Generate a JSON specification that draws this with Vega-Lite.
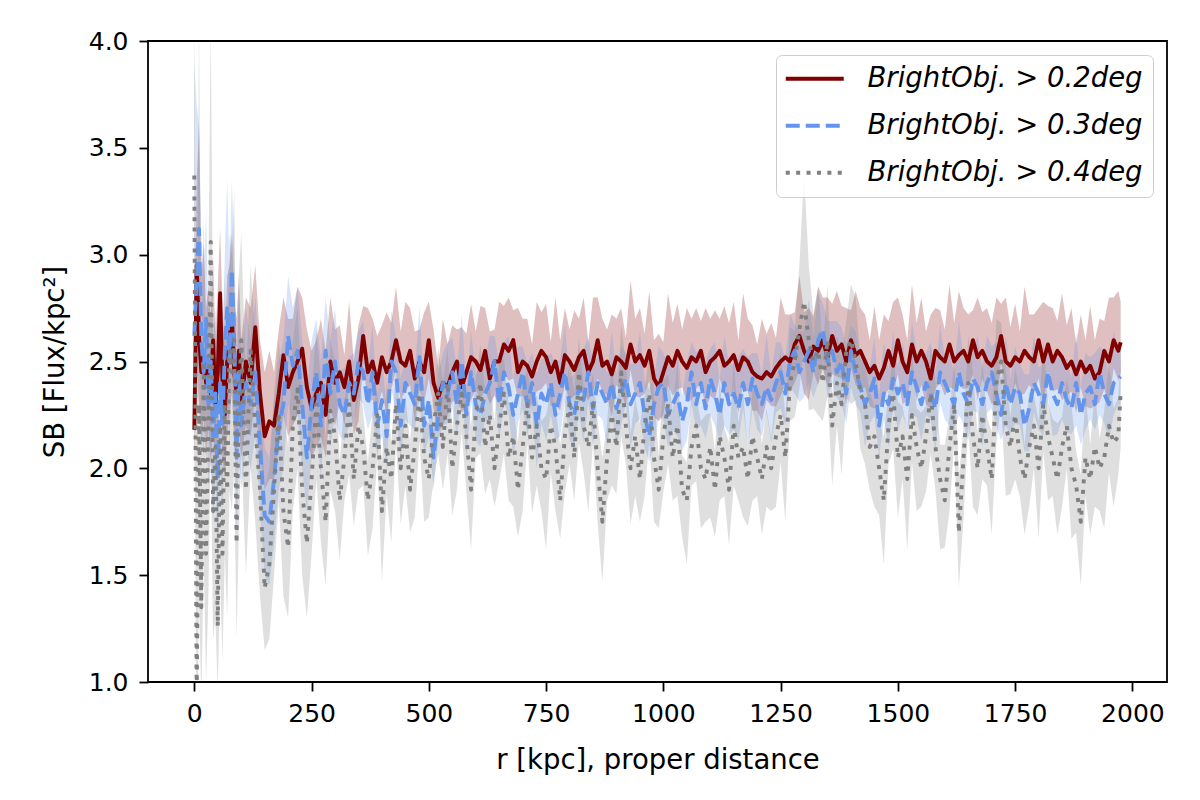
{
  "$schema": "https://vega.github.io/schema/vega-lite/v6.json",
  "width": 1019,
  "height": 641,
  "autosize": {"type": "none"},
  "padding": {"left": 148, "top": 41, "right": 33, "bottom": 118},
  "background": "white",
  "config": {
    "font": "DejaVu Sans",
    "view": {"stroke": "black", "strokeWidth": 1.8},
    "axis": {
      "domain": false,
      "grid": false,
      "tickColor": "black",
      "tickWidth": 1.8,
      "tickSize": 9,
      "labelFont": "DejaVu Sans",
      "labelFontSize": 25,
      "labelColor": "black",
      "titleFont": "DejaVu Sans",
      "titleFontSize": 27.5,
      "titleFontWeight": "normal",
      "titleColor": "black"
    },
    "legend": {
      "orient": "top-right",
      "offset": 14,
      "padding": 10,
      "strokeColor": "#cccccc",
      "fillColor": "rgba(255,255,255,0.8)",
      "cornerRadius": 6,
      "labelFont": "DejaVu Sans",
      "labelFontSize": 27.5,
      "labelFontStyle": "italic",
      "labelColor": "black",
      "labelLimit": 400,
      "symbolType": "M-2.9,0H2.9",
      "symbolSize": 400,
      "symbolStrokeWidth": 3.9,
      "symbolOffset": 15,
      "labelOffset": 39,
      "rowPadding": 18
    }
  },
  "data": {
    "values": [
      {"r":0,"a":2.18,"al":1.95,"ah":2.5,"b":2.62,"bl":2.2,"bh":3.9,"c":3.37,"cl":2.4,"ch":4.2},
      {"r":5,"a":2.95,"al":2.5,"ah":3.35,"b":2.9,"bl":2.3,"bh":3.7,"c":0.9,"cl":0.6,"ch":2.2},
      {"r":10,"a":2.62,"al":2.3,"ah":3.6,"b":3.12,"bl":2.6,"bh":3.6,"c":2.3,"cl":1.4,"ch":4.1},
      {"r":15,"a":2.45,"al":2.1,"ah":2.9,"b":2.6,"bl":2.2,"bh":3.1,"c":1.35,"cl":0.9,"ch":2.4},
      {"r":20,"a":2.55,"al":2.25,"ah":3.05,"b":2.45,"bl":2.05,"bh":2.85,"c":2.5,"cl":1.6,"ch":3.2},
      {"r":25,"a":2.4,"al":2.05,"ah":2.75,"b":2.7,"bl":2.3,"bh":3.2,"c":1.6,"cl":1.0,"ch":2.5},
      {"r":30,"a":2.5,"al":2.2,"ah":2.85,"b":2.3,"bl":1.9,"bh":2.7,"c":2.2,"cl":1.4,"ch":2.9},
      {"r":35,"a":2.35,"al":2.0,"ah":2.7,"b":2.5,"bl":2.1,"bh":2.95,"c":3.06,"cl":2.1,"ch":4.1},
      {"r":40,"a":2.6,"al":2.25,"ah":3.0,"b":2.15,"bl":1.75,"bh":2.6,"c":1.8,"cl":1.2,"ch":2.6},
      {"r":45,"a":2.3,"al":1.95,"ah":2.6,"b":2.35,"bl":1.95,"bh":2.75,"c":2.1,"cl":1.3,"ch":2.7},
      {"r":50,"a":2.45,"al":2.1,"ah":2.85,"b":1.95,"bl":1.55,"bh":2.4,"c":1.26,"cl":0.95,"ch":2.0},
      {"r":55,"a":2.82,"al":2.45,"ah":3.12,"b":2.4,"bl":2.0,"bh":2.8,"c":2.2,"cl":1.5,"ch":2.9},
      {"r":60,"a":2.4,"al":2.05,"ah":2.75,"b":2.2,"bl":1.8,"bh":2.6,"c":1.6,"cl":1.1,"ch":2.3},
      {"r":65,"a":2.25,"al":1.95,"ah":2.6,"b":2.55,"bl":2.15,"bh":3.0,"c":2.3,"cl":1.6,"ch":2.9},
      {"r":70,"a":2.5,"al":2.15,"ah":2.9,"b":2.75,"bl":2.35,"bh":3.35,"c":1.9,"cl":1.3,"ch":2.5},
      {"r":75,"a":2.6,"al":2.25,"ah":2.95,"b":2.5,"bl":2.1,"bh":2.9,"c":2.55,"cl":1.9,"ch":3.1},
      {"r":80,"a":2.72,"al":2.35,"ah":3.1,"b":2.93,"bl":2.5,"bh":3.35,"c":2.45,"cl":1.8,"ch":3.0},
      {"r":85,"a":2.45,"al":2.1,"ah":2.8,"b":2.6,"bl":2.2,"bh":3.0,"c":2.6,"cl":2.0,"ch":3.3},
      {"r":90,"a":2.35,"al":2.05,"ah":2.7,"b":2.05,"bl":1.7,"bh":2.45,"c":1.65,"cl":1.2,"ch":2.3},
      {"r":95,"a":2.55,"al":2.2,"ah":2.9,"b":2.45,"bl":2.05,"bh":2.85,"c":2.3,"cl":1.7,"ch":2.9},
      {"r":100,"a":2.3,"al":2.05,"ah":2.6,"b":2.2,"bl":1.9,"bh":2.5,"c":2.6,"cl":2.1,"ch":3.1},
      {"r":110,"a":2.5,"al":2.2,"ah":2.8,"b":2.4,"bl":2.1,"bh":2.75,"c":1.9,"cl":1.5,"ch":2.4},
      {"r":120,"a":2.4,"al":2.15,"ah":2.75,"b":2.3,"bl":2.0,"bh":2.6,"c":2.55,"cl":2.0,"ch":2.95},
      {"r":130,"a":2.66,"al":2.35,"ah":2.95,"b":2.45,"bl":2.15,"bh":2.8,"c":2.2,"cl":1.75,"ch":2.6},
      {"r":140,"a":2.35,"al":2.05,"ah":2.6,"b":2.1,"bl":1.8,"bh":2.45,"c":1.9,"cl":1.4,"ch":2.4},
      {"r":150,"a":2.15,"al":1.9,"ah":2.45,"b":1.78,"bl":1.5,"bh":2.1,"c":1.44,"cl":1.15,"ch":1.9},
      {"r":160,"a":2.22,"al":1.95,"ah":2.55,"b":1.75,"bl":1.45,"bh":2.05,"c":1.55,"cl":1.2,"ch":2.0},
      {"r":170,"a":2.2,"al":1.95,"ah":2.45,"b":1.95,"bl":1.65,"bh":2.3,"c":1.9,"cl":1.5,"ch":2.35},
      {"r":180,"a":2.35,"al":2.1,"ah":2.65,"b":2.2,"bl":1.9,"bh":2.5,"c":2.26,"cl":1.85,"ch":2.6},
      {"r":190,"a":2.53,"al":2.25,"ah":2.8,"b":2.3,"bl":2.0,"bh":2.6,"c":1.8,"cl":1.4,"ch":2.3},
      {"r":200,"a":2.38,"al":2.15,"ah":2.7,"b":2.62,"bl":2.3,"bh":2.9,"c":1.63,"cl":1.3,"ch":2.1},
      {"r":210,"a":2.45,"al":2.2,"ah":2.7,"b":2.48,"bl":2.2,"bh":2.75,"c":2.2,"cl":1.8,"ch":2.6},
      {"r":220,"a":2.5,"al":2.25,"ah":2.85,"b":2.55,"bl":2.25,"bh":2.85,"c":2.37,"cl":2.0,"ch":2.75},
      {"r":230,"a":2.56,"al":2.3,"ah":2.8,"b":2.3,"bl":2.0,"bh":2.6,"c":1.9,"cl":1.5,"ch":2.35},
      {"r":240,"a":2.38,"al":2.15,"ah":2.65,"b":2.05,"bl":1.8,"bh":2.35,"c":1.65,"cl":1.3,"ch":2.1},
      {"r":250,"a":2.28,"al":2.05,"ah":2.55,"b":2.3,"bl":2.05,"bh":2.6,"c":1.95,"cl":1.6,"ch":2.35},
      {"r":260,"a":2.35,"al":2.1,"ah":2.6,"b":2.45,"bl":2.2,"bh":2.7,"c":2.3,"cl":1.95,"ch":2.65},
      {"r":270,"a":2.4,"al":2.15,"ah":2.7,"b":2.2,"bl":1.95,"bh":2.5,"c":2.0,"cl":1.65,"ch":2.4},
      {"r":280,"a":2.25,"al":2.05,"ah":2.55,"b":2.55,"bl":2.3,"bh":2.8,"c":1.75,"cl":1.45,"ch":2.15},
      {"r":290,"a":2.5,"al":2.28,"ah":2.8,"b":2.35,"bl":2.1,"bh":2.6,"c":2.27,"cl":1.9,"ch":2.6},
      {"r":300,"a":2.4,"al":2.2,"ah":2.65,"b":2.5,"bl":2.25,"bh":2.75,"c":2.15,"cl":1.8,"ch":2.5},
      {"r":310,"a":2.45,"al":2.31,"ah":2.67,"b":2.3,"bl":2.15,"bh":2.46,"c":1.85,"cl":1.57,"ch":2.03},
      {"r":320,"a":2.38,"al":2.2,"ah":2.53,"b":2.25,"bl":2.13,"bh":2.47,"c":2.05,"cl":1.85,"ch":2.31},
      {"r":330,"a":2.5,"al":2.38,"ah":2.78,"b":2.4,"bl":2.2,"bh":2.52,"c":2.3,"cl":1.97,"ch":2.44},
      {"r":340,"a":2.32,"al":2.16,"ah":2.5,"b":2.35,"bl":2.21,"bh":2.54,"c":1.95,"cl":1.73,"ch":2.17},
      {"r":350,"a":2.42,"al":2.22,"ah":2.67,"b":2.5,"bl":2.33,"bh":2.64,"c":2.2,"cl":1.9,"ch":2.5},
      {"r":360,"a":2.62,"al":2.49,"ah":2.76,"b":2.45,"bl":2.3,"bh":2.69,"c":2.1,"cl":1.92,"ch":2.26},
      {"r":370,"a":2.45,"al":2.31,"ah":2.75,"b":2.3,"bl":2.18,"bh":2.46,"c":1.85,"cl":1.59,"ch":2.03},
      {"r":380,"a":2.5,"al":2.32,"ah":2.7,"b":2.45,"bl":2.25,"bh":2.67,"c":2.0,"cl":1.72,"ch":2.26},
      {"r":390,"a":2.4,"al":2.28,"ah":2.62,"b":2.2,"bl":2.06,"bh":2.32,"c":2.25,"cl":2.05,"ch":2.39},
      {"r":400,"a":2.52,"al":2.36,"ah":2.67,"b":2.32,"bl":2.15,"bh":2.51,"c":1.8,"cl":1.47,"ch":2.02},
      {"r":410,"a":2.45,"al":2.25,"ah":2.73,"b":2.15,"bl":2.0,"bh":2.29,"c":2.1,"cl":1.88,"ch":2.4},
      {"r":420,"a":2.5,"al":2.37,"ah":2.68,"b":2.5,"bl":2.38,"bh":2.74,"c":1.95,"cl":1.65,"ch":2.11},
      {"r":430,"a":2.6,"al":2.46,"ah":2.85,"b":2.45,"bl":2.25,"bh":2.61,"c":2.3,"cl":2.12,"ch":2.48},
      {"r":440,"a":2.5,"al":2.32,"ah":2.64,"b":2.2,"bl":2.06,"bh":2.42,"c":2.0,"cl":1.74,"ch":2.26},
      {"r":450,"a":2.48,"al":2.36,"ah":2.78,"b":2.4,"bl":2.23,"bh":2.52,"c":2.2,"cl":1.92,"ch":2.34},
      {"r":460,"a":2.55,"al":2.39,"ah":2.75,"b":2.35,"bl":2.2,"bh":2.54,"c":1.9,"cl":1.7,"ch":2.12},
      {"r":470,"a":2.42,"al":2.22,"ah":2.64,"b":2.3,"bl":2.18,"bh":2.44,"c":2.1,"cl":1.77,"ch":2.4},
      {"r":480,"a":2.5,"al":2.37,"ah":2.65,"b":2.52,"bl":2.32,"bh":2.76,"c":2.35,"cl":2.13,"ch":2.51},
      {"r":490,"a":2.45,"al":2.31,"ah":2.73,"b":2.2,"bl":2.06,"bh":2.36,"c":2.05,"cl":1.75,"ch":2.23},
      {"r":500,"a":2.6,"al":2.42,"ah":2.78,"b":2.32,"bl":2.15,"bh":2.58,"c":1.95,"cl":1.77,"ch":2.21},
      {"r":510,"a":2.4,"al":2.28,"ah":2.65,"b":2.05,"bl":1.9,"bh":2.17,"c":2.2,"cl":1.94,"ch":2.34},
      {"r":520,"a":2.33,"al":2.17,"ah":2.47,"b":2.25,"bl":2.13,"bh":2.44,"c":2.35,"cl":2.07,"ch":2.57},
      {"r":530,"a":2.4,"al":2.2,"ah":2.7,"b":2.4,"bl":2.2,"bh":2.54,"c":2.1,"cl":1.9,"ch":2.4},
      {"r":540,"a":2.38,"al":2.25,"ah":2.58,"b":2.35,"bl":2.21,"bh":2.59,"c":2.4,"cl":2.07,"ch":2.56},
      {"r":550,"a":2.45,"al":2.31,"ah":2.67,"b":2.45,"bl":2.28,"bh":2.61,"c":2.0,"cl":1.78,"ch":2.18},
      {"r":560,"a":2.5,"al":2.32,"ah":2.65,"b":2.3,"bl":2.15,"bh":2.46,"c":2.2,"cl":1.9,"ch":2.46},
      {"r":570,"a":2.38,"al":2.26,"ah":2.66,"b":2.5,"bl":2.38,"bh":2.72,"c":2.35,"cl":2.17,"ch":2.49},
      {"r":580,"a":2.45,"al":2.29,"ah":2.63,"b":2.25,"bl":2.05,"bh":2.37,"c":2.15,"cl":1.89,"ch":2.37},
      {"r":590,"a":2.52,"al":2.32,"ah":2.77,"b":2.45,"bl":2.31,"bh":2.64,"c":1.9,"cl":1.62,"ch":2.2},
      {"r":600,"a":2.5,"al":2.37,"ah":2.64,"b":2.3,"bl":2.13,"bh":2.44,"c":2.25,"cl":2.05,"ch":2.41},
      {"r":610,"a":2.46,"al":2.32,"ah":2.76,"b":2.25,"bl":2.1,"bh":2.49,"c":2.4,"cl":2.07,"ch":2.58},
      {"r":620,"a":2.55,"al":2.37,"ah":2.75,"b":2.35,"bl":2.23,"bh":2.51,"c":2.1,"cl":1.88,"ch":2.36},
      {"r":630,"a":2.42,"al":2.3,"ah":2.64,"b":2.4,"bl":2.2,"bh":2.62,"c":2.25,"cl":1.95,"ch":2.39},
      {"r":640,"a":2.5,"al":2.34,"ah":2.65,"b":2.5,"bl":2.36,"bh":2.62,"c":2.0,"cl":1.82,"ch":2.22},
      {"r":650,"a":2.5,"al":2.3,"ah":2.78,"b":2.3,"bl":2.13,"bh":2.49,"c":2.2,"cl":1.94,"ch":2.5},
      {"r":660,"a":2.58,"al":2.45,"ah":2.76,"b":2.45,"bl":2.3,"bh":2.59,"c":2.35,"cl":2.07,"ch":2.51},
      {"r":670,"a":2.55,"al":2.41,"ah":2.8,"b":2.38,"bl":2.26,"bh":2.62,"c":2.05,"cl":1.85,"ch":2.31},
      {"r":680,"a":2.6,"al":2.42,"ah":2.74,"b":2.25,"bl":2.05,"bh":2.41,"c":2.15,"cl":1.82,"ch":2.29},
      {"r":690,"a":2.45,"al":2.33,"ah":2.75,"b":2.35,"bl":2.21,"bh":2.57,"c":1.9,"cl":1.68,"ch":2.12},
      {"r":700,"a":2.5,"al":2.34,"ah":2.7,"b":2.45,"bl":2.28,"bh":2.57,"c":2.1,"cl":1.8,"ch":2.4},
      {"r":710,"a":2.48,"al":2.28,"ah":2.7,"b":2.3,"bl":2.15,"bh":2.49,"c":2.3,"cl":2.12,"ch":2.46},
      {"r":720,"a":2.43,"al":2.3,"ah":2.58,"b":2.4,"bl":2.28,"bh":2.54,"c":2.05,"cl":1.79,"ch":2.31},
      {"r":730,"a":2.5,"al":2.36,"ah":2.78,"b":2.2,"bl":2.0,"bh":2.44,"c":2.2,"cl":1.92,"ch":2.34},
      {"r":740,"a":2.55,"al":2.37,"ah":2.73,"b":2.35,"bl":2.21,"bh":2.51,"c":2.0,"cl":1.8,"ch":2.22},
      {"r":750,"a":2.52,"al":2.4,"ah":2.77,"b":2.3,"bl":2.13,"bh":2.52,"c":1.95,"cl":1.62,"ch":2.25},
      {"r":760,"a":2.45,"al":2.29,"ah":2.59,"b":2.4,"bl":2.25,"bh":2.54,"c":2.2,"cl":1.98,"ch":2.36},
      {"r":770,"a":2.5,"al":2.3,"ah":2.8,"b":2.25,"bl":2.13,"bh":2.49,"c":2.1,"cl":1.8,"ch":2.28},
      {"r":780,"a":2.4,"al":2.27,"ah":2.6,"b":2.35,"bl":2.15,"bh":2.51,"c":1.85,"cl":1.67,"ch":2.11},
      {"r":790,"a":2.53,"al":2.39,"ah":2.75,"b":2.45,"bl":2.31,"bh":2.67,"c":2.15,"cl":1.89,"ch":2.29},
      {"r":800,"a":2.5,"al":2.32,"ah":2.65,"b":2.3,"bl":2.13,"bh":2.42,"c":2.3,"cl":2.02,"ch":2.52},
      {"r":810,"a":2.46,"al":2.34,"ah":2.74,"b":2.25,"bl":2.1,"bh":2.44,"c":2.05,"cl":1.85,"ch":2.35},
      {"r":820,"a":2.52,"al":2.36,"ah":2.7,"b":2.38,"bl":2.26,"bh":2.52,"c":2.45,"cl":2.12,"ch":2.61},
      {"r":830,"a":2.55,"al":2.35,"ah":2.8,"b":2.32,"bl":2.12,"bh":2.56,"c":2.2,"cl":1.98,"ch":2.38},
      {"r":840,"a":2.45,"al":2.32,"ah":2.59,"b":2.45,"bl":2.31,"bh":2.61,"c":2.1,"cl":1.8,"ch":2.36},
      {"r":850,"a":2.5,"al":2.36,"ah":2.8,"b":2.28,"bl":2.11,"bh":2.5,"c":2.3,"cl":2.12,"ch":2.44},
      {"r":860,"a":2.6,"al":2.42,"ah":2.8,"b":2.4,"bl":2.25,"bh":2.52,"c":2.0,"cl":1.74,"ch":2.22},
      {"r":870,"a":2.48,"al":2.36,"ah":2.7,"b":2.35,"bl":2.23,"bh":2.54,"c":1.75,"cl":1.47,"ch":2.05},
      {"r":880,"a":2.5,"al":2.34,"ah":2.65,"b":2.3,"bl":2.1,"bh":2.44,"c":2.05,"cl":1.85,"ch":2.21},
      {"r":890,"a":2.44,"al":2.24,"ah":2.72,"b":2.4,"bl":2.26,"bh":2.64,"c":2.25,"cl":1.92,"ch":2.51},
      {"r":900,"a":2.52,"al":2.39,"ah":2.7,"b":2.28,"bl":2.11,"bh":2.44,"c":2.1,"cl":1.88,"ch":2.24},
      {"r":910,"a":2.5,"al":2.36,"ah":2.75,"b":2.35,"bl":2.2,"bh":2.57,"c":2.45,"cl":2.15,"ch":2.67},
      {"r":920,"a":2.47,"al":2.29,"ah":2.61,"b":2.42,"bl":2.3,"bh":2.54,"c":2.2,"cl":2.02,"ch":2.5},
      {"r":930,"a":2.58,"al":2.46,"ah":2.88,"b":2.3,"bl":2.1,"bh":2.49,"c":2.0,"cl":1.74,"ch":2.16},
      {"r":940,"a":2.5,"al":2.34,"ah":2.7,"b":2.35,"bl":2.21,"bh":2.49,"c":2.15,"cl":1.87,"ch":2.33},
      {"r":950,"a":2.53,"al":2.33,"ah":2.75,"b":2.4,"bl":2.23,"bh":2.64,"c":1.95,"cl":1.75,"ch":2.21},
      {"r":960,"a":2.48,"al":2.35,"ah":2.63,"b":2.25,"bl":2.1,"bh":2.41,"c":2.2,"cl":1.87,"ch":2.34},
      {"r":970,"a":2.55,"al":2.41,"ah":2.83,"b":2.15,"bl":2.03,"bh":2.37,"c":2.35,"cl":2.13,"ch":2.57},
      {"r":980,"a":2.42,"al":2.24,"ah":2.6,"b":2.3,"bl":2.1,"bh":2.42,"c":2.05,"cl":1.75,"ch":2.35},
      {"r":990,"a":2.38,"al":2.22,"ah":2.63,"b":2.38,"bl":2.24,"bh":2.57,"c":1.9,"cl":1.72,"ch":2.06},
      {"r":1000,"a":2.45,"al":2.25,"ah":2.59,"b":2.4,"bl":2.23,"bh":2.54,"c":2.15,"cl":1.89,"ch":2.41},
      {"r":1010,"a":2.52,"al":2.39,"ah":2.82,"b":2.25,"bl":2.1,"bh":2.49,"c":2.3,"cl":2.02,"ch":2.44},
      {"r":1020,"a":2.48,"al":2.34,"ah":2.68,"b":2.3,"bl":2.18,"bh":2.46,"c":2.05,"cl":1.85,"ch":2.27},
      {"r":1030,"a":2.55,"al":2.37,"ah":2.77,"b":2.35,"bl":2.15,"bh":2.57,"c":2.2,"cl":1.87,"ch":2.5},
      {"r":1040,"a":2.5,"al":2.38,"ah":2.65,"b":2.22,"bl":2.08,"bh":2.34,"c":1.9,"cl":1.68,"ch":2.06},
      {"r":1050,"a":2.47,"al":2.31,"ah":2.75,"b":2.3,"bl":2.13,"bh":2.49,"c":1.85,"cl":1.55,"ch":2.03},
      {"r":1060,"a":2.52,"al":2.32,"ah":2.7,"b":2.45,"bl":2.3,"bh":2.59,"c":2.1,"cl":1.92,"ch":2.36},
      {"r":1070,"a":2.5,"al":2.37,"ah":2.75,"b":2.3,"bl":2.18,"bh":2.54,"c":2.2,"cl":1.94,"ch":2.34},
      {"r":1080,"a":2.55,"al":2.41,"ah":2.69,"b":2.4,"bl":2.2,"bh":2.56,"c":2.0,"cl":1.72,"ch":2.22},
      {"r":1090,"a":2.45,"al":2.27,"ah":2.75,"b":2.28,"bl":2.14,"bh":2.5,"c":1.95,"cl":1.75,"ch":2.25},
      {"r":1100,"a":2.5,"al":2.34,"ah":2.7,"b":2.42,"bl":2.25,"bh":2.56,"c":2.1,"cl":1.77,"ch":2.26},
      {"r":1110,"a":2.52,"al":2.32,"ah":2.74,"b":2.35,"bl":2.2,"bh":2.59,"c":1.9,"cl":1.68,"ch":2.08},
      {"r":1120,"a":2.55,"al":2.42,"ah":2.7,"b":2.25,"bl":2.13,"bh":2.41,"c":2.15,"cl":1.85,"ch":2.41},
      {"r":1130,"a":2.48,"al":2.34,"ah":2.76,"b":2.4,"bl":2.2,"bh":2.62,"c":2.05,"cl":1.87,"ch":2.19},
      {"r":1140,"a":2.5,"al":2.32,"ah":2.68,"b":2.3,"bl":2.16,"bh":2.49,"c":1.9,"cl":1.64,"ch":2.12},
      {"r":1150,"a":2.53,"al":2.37,"ah":2.78,"b":2.35,"bl":2.18,"bh":2.49,"c":2.2,"cl":1.92,"ch":2.5},
      {"r":1160,"a":2.46,"al":2.26,"ah":2.6,"b":2.28,"bl":2.13,"bh":2.52,"c":2.05,"cl":1.85,"ch":2.21},
      {"r":1170,"a":2.52,"al":2.39,"ah":2.82,"b":2.4,"bl":2.28,"bh":2.56,"c":2.1,"cl":1.77,"ch":2.36},
      {"r":1180,"a":2.5,"al":2.36,"ah":2.7,"b":2.3,"bl":2.1,"bh":2.52,"c":1.95,"cl":1.73,"ch":2.09},
      {"r":1190,"a":2.45,"al":2.27,"ah":2.67,"b":2.42,"bl":2.28,"bh":2.54,"c":2.15,"cl":1.85,"ch":2.37},
      {"r":1200,"a":2.43,"al":2.27,"ah":2.58,"b":2.35,"bl":2.18,"bh":2.54,"c":2.05,"cl":1.87,"ch":2.35},
      {"r":1210,"a":2.42,"al":2.22,"ah":2.7,"b":2.3,"bl":2.15,"bh":2.44,"c":1.95,"cl":1.69,"ch":2.11},
      {"r":1220,"a":2.45,"al":2.32,"ah":2.63,"b":2.38,"bl":2.26,"bh":2.62,"c":2.1,"cl":1.82,"ch":2.28},
      {"r":1230,"a":2.43,"al":2.29,"ah":2.68,"b":2.32,"bl":2.12,"bh":2.44,"c":2.0,"cl":1.8,"ch":2.14},
      {"r":1240,"a":2.47,"al":2.29,"ah":2.61,"b":2.4,"bl":2.26,"bh":2.59,"c":2.15,"cl":1.82,"ch":2.37},
      {"r":1250,"a":2.5,"al":2.34,"ah":2.8,"b":2.45,"bl":2.28,"bh":2.59,"c":2.25,"cl":2.03,"ch":2.55},
      {"r":1260,"a":2.52,"al":2.39,"ah":2.72,"b":2.35,"bl":2.2,"bh":2.51,"c":2.05,"cl":1.75,"ch":2.23},
      {"r":1270,"a":2.5,"al":2.36,"ah":2.72,"b":2.5,"bl":2.38,"bh":2.72,"c":2.4,"cl":2.22,"ch":2.66},
      {"r":1280,"a":2.58,"al":2.4,"ah":2.73,"b":2.55,"bl":2.35,"bh":2.67,"c":2.5,"cl":2.24,"ch":2.64},
      {"r":1290,"a":2.62,"al":2.46,"ah":2.9,"b":2.45,"bl":2.31,"bh":2.64,"c":2.65,"cl":2.37,"ch":2.95},
      {"r":1300,"a":2.55,"al":2.35,"ah":2.73,"b":2.5,"bl":2.33,"bh":2.64,"c":2.78,"cl":2.58,"ch":3.38},
      {"r":1310,"a":2.5,"al":2.32,"ah":2.75,"b":2.55,"bl":2.4,"bh":2.79,"c":2.6,"cl":2.27,"ch":2.95},
      {"r":1320,"a":2.57,"al":2.45,"ah":2.71,"b":2.45,"bl":2.33,"bh":2.61,"c":2.5,"cl":2.28,"ch":2.72},
      {"r":1330,"a":2.55,"al":2.39,"ah":2.85,"b":2.6,"bl":2.4,"bh":2.82,"c":2.55,"cl":2.25,"ch":2.85},
      {"r":1340,"a":2.6,"al":2.47,"ah":2.8,"b":2.65,"bl":2.51,"bh":2.77,"c":2.4,"cl":2.22,"ch":2.56},
      {"r":1350,"a":2.52,"al":2.38,"ah":2.8,"b":2.5,"bl":2.33,"bh":2.69,"c":2.6,"cl":2.34,"ch":2.86},
      {"r":1360,"a":2.62,"al":2.44,"ah":2.77,"b":2.55,"bl":2.4,"bh":2.69,"c":2.2,"cl":1.92,"ch":2.34},
      {"r":1370,"a":2.55,"al":2.43,"ah":2.83,"b":2.45,"bl":2.33,"bh":2.69,"c":2.4,"cl":2.2,"ch":2.62},
      {"r":1380,"a":2.58,"al":2.42,"ah":2.76,"b":2.5,"bl":2.3,"bh":2.66,"c":2.3,"cl":1.97,"ch":2.52},
      {"r":1390,"a":2.5,"al":2.3,"ah":2.75,"b":2.35,"bl":2.21,"bh":2.57,"c":2.55,"cl":2.33,"ch":2.69},
      {"r":1400,"a":2.6,"al":2.47,"ah":2.74,"b":2.55,"bl":2.38,"bh":2.67,"c":2.6,"cl":2.3,"ch":2.86},
      {"r":1410,"a":2.53,"al":2.39,"ah":2.83,"b":2.45,"bl":2.3,"bh":2.64,"c":2.5,"cl":2.32,"ch":2.8},
      {"r":1420,"a":2.55,"al":2.37,"ah":2.75,"b":2.38,"bl":2.26,"bh":2.52,"c":2.35,"cl":2.09,"ch":2.51},
      {"r":1430,"a":2.5,"al":2.38,"ah":2.72,"b":2.3,"bl":2.1,"bh":2.52,"c":2.3,"cl":2.02,"ch":2.48},
      {"r":1440,"a":2.45,"al":2.29,"ah":2.6,"b":2.35,"bl":2.21,"bh":2.47,"c":2.1,"cl":1.9,"ch":2.36},
      {"r":1450,"a":2.48,"al":2.28,"ah":2.76,"b":2.42,"bl":2.25,"bh":2.61,"c":2.15,"cl":1.82,"ch":2.29},
      {"r":1460,"a":2.42,"al":2.29,"ah":2.6,"b":2.2,"bl":2.05,"bh":2.34,"c":2.0,"cl":1.78,"ch":2.22},
      {"r":1470,"a":2.47,"al":2.33,"ah":2.72,"b":2.35,"bl":2.23,"bh":2.59,"c":1.85,"cl":1.55,"ch":2.15},
      {"r":1480,"a":2.55,"al":2.37,"ah":2.69,"b":2.3,"bl":2.1,"bh":2.46,"c":2.2,"cl":2.02,"ch":2.36},
      {"r":1490,"a":2.48,"al":2.36,"ah":2.78,"b":2.42,"bl":2.28,"bh":2.64,"c":2.35,"cl":2.09,"ch":2.53},
      {"r":1500,"a":2.6,"al":2.44,"ah":2.8,"b":2.35,"bl":2.18,"bh":2.47,"c":2.05,"cl":1.77,"ch":2.31},
      {"r":1510,"a":2.5,"al":2.3,"ah":2.72,"b":2.4,"bl":2.25,"bh":2.59,"c":2.15,"cl":1.95,"ch":2.29},
      {"r":1520,"a":2.45,"al":2.32,"ah":2.6,"b":2.3,"bl":2.18,"bh":2.44,"c":1.95,"cl":1.62,"ch":2.17},
      {"r":1530,"a":2.58,"al":2.44,"ah":2.86,"b":2.45,"bl":2.25,"bh":2.69,"c":2.25,"cl":2.03,"ch":2.55},
      {"r":1540,"a":2.5,"al":2.32,"ah":2.68,"b":2.38,"bl":2.24,"bh":2.54,"c":2.1,"cl":1.8,"ch":2.28},
      {"r":1550,"a":2.55,"al":2.39,"ah":2.8,"b":2.3,"bl":2.13,"bh":2.52,"c":2.0,"cl":1.82,"ch":2.26},
      {"r":1560,"a":2.5,"al":2.3,"ah":2.64,"b":2.4,"bl":2.25,"bh":2.54,"c":2.15,"cl":1.89,"ch":2.29},
      {"r":1570,"a":2.42,"al":2.28,"ah":2.72,"b":2.35,"bl":2.23,"bh":2.59,"c":2.35,"cl":2.07,"ch":2.57},
      {"r":1580,"a":2.55,"al":2.37,"ah":2.75,"b":2.28,"bl":2.08,"bh":2.44,"c":2.1,"cl":1.9,"ch":2.4},
      {"r":1590,"a":2.52,"al":2.4,"ah":2.74,"b":2.45,"bl":2.31,"bh":2.67,"c":1.95,"cl":1.62,"ch":2.11},
      {"r":1600,"a":2.5,"al":2.34,"ah":2.65,"b":2.4,"bl":2.23,"bh":2.52,"c":1.85,"cl":1.63,"ch":2.11},
      {"r":1610,"a":2.58,"al":2.38,"ah":2.86,"b":2.35,"bl":2.2,"bh":2.54,"c":2.1,"cl":1.8,"ch":2.24},
      {"r":1620,"a":2.5,"al":2.37,"ah":2.68,"b":2.3,"bl":2.18,"bh":2.44,"c":2.3,"cl":2.12,"ch":2.52},
      {"r":1630,"a":2.53,"al":2.39,"ah":2.83,"b":2.45,"bl":2.25,"bh":2.69,"c":1.7,"cl":1.44,"ch":1.96},
      {"r":1640,"a":2.55,"al":2.37,"ah":2.75,"b":2.35,"bl":2.21,"bh":2.51,"c":2.05,"cl":1.77,"ch":2.19},
      {"r":1650,"a":2.5,"al":2.38,"ah":2.72,"b":2.3,"bl":2.13,"bh":2.52,"c":2.4,"cl":2.2,"ch":2.62},
      {"r":1660,"a":2.6,"al":2.44,"ah":2.74,"b":2.42,"bl":2.27,"bh":2.56,"c":2.15,"cl":1.82,"ch":2.45},
      {"r":1670,"a":2.52,"al":2.32,"ah":2.8,"b":2.38,"bl":2.26,"bh":2.62,"c":2.0,"cl":1.78,"ch":2.16},
      {"r":1680,"a":2.55,"al":2.42,"ah":2.73,"b":2.3,"bl":2.1,"bh":2.46,"c":2.25,"cl":1.95,"ch":2.51},
      {"r":1690,"a":2.5,"al":2.36,"ah":2.75,"b":2.4,"bl":2.26,"bh":2.62,"c":2.1,"cl":1.92,"ch":2.24},
      {"r":1700,"a":2.48,"al":2.3,"ah":2.68,"b":2.45,"bl":2.28,"bh":2.57,"c":1.95,"cl":1.69,"ch":2.17},
      {"r":1710,"a":2.52,"al":2.32,"ah":2.8,"b":2.35,"bl":2.2,"bh":2.59,"c":2.4,"cl":2.12,"ch":2.7},
      {"r":1720,"a":2.62,"al":2.49,"ah":2.77,"b":2.25,"bl":2.13,"bh":2.41,"c":2.5,"cl":2.3,"ch":2.68},
      {"r":1730,"a":2.5,"al":2.36,"ah":2.8,"b":2.4,"bl":2.2,"bh":2.62,"c":2.2,"cl":1.87,"ch":2.46},
      {"r":1740,"a":2.48,"al":2.3,"ah":2.66,"b":2.3,"bl":2.16,"bh":2.42,"c":2.1,"cl":1.88,"ch":2.24},
      {"r":1750,"a":2.52,"al":2.4,"ah":2.77,"b":2.38,"bl":2.21,"bh":2.57,"c":2.25,"cl":1.95,"ch":2.47},
      {"r":1760,"a":2.5,"al":2.34,"ah":2.64,"b":2.35,"bl":2.2,"bh":2.49,"c":2.05,"cl":1.87,"ch":2.35},
      {"r":1770,"a":2.55,"al":2.35,"ah":2.85,"b":2.2,"bl":2.08,"bh":2.44,"c":1.95,"cl":1.69,"ch":2.11},
      {"r":1780,"a":2.52,"al":2.39,"ah":2.72,"b":2.28,"bl":2.08,"bh":2.44,"c":2.1,"cl":1.82,"ch":2.36},
      {"r":1790,"a":2.5,"al":2.36,"ah":2.72,"b":2.4,"bl":2.26,"bh":2.62,"c":2.2,"cl":2.0,"ch":2.34},
      {"r":1800,"a":2.6,"al":2.42,"ah":2.75,"b":2.35,"bl":2.18,"bh":2.47,"c":2.0,"cl":1.67,"ch":2.22},
      {"r":1810,"a":2.5,"al":2.3,"ah":2.78,"b":2.3,"bl":2.15,"bh":2.49,"c":2.3,"cl":2.08,"ch":2.6},
      {"r":1820,"a":2.58,"al":2.45,"ah":2.76,"b":2.45,"bl":2.33,"bh":2.59,"c":2.15,"cl":1.85,"ch":2.31},
      {"r":1830,"a":2.5,"al":2.36,"ah":2.75,"b":2.35,"bl":2.15,"bh":2.51,"c":2.05,"cl":1.87,"ch":2.23},
      {"r":1840,"a":2.55,"al":2.37,"ah":2.69,"b":2.3,"bl":2.16,"bh":2.52,"c":1.95,"cl":1.69,"ch":2.21},
      {"r":1850,"a":2.52,"al":2.32,"ah":2.82,"b":2.4,"bl":2.23,"bh":2.52,"c":2.1,"cl":1.82,"ch":2.24},
      {"r":1860,"a":2.47,"al":2.34,"ah":2.67,"b":2.32,"bl":2.17,"bh":2.51,"c":2.2,"cl":2.0,"ch":2.42},
      {"r":1870,"a":2.5,"al":2.36,"ah":2.75,"b":2.28,"bl":2.16,"bh":2.42,"c":2.0,"cl":1.67,"ch":2.3},
      {"r":1880,"a":2.44,"al":2.26,"ah":2.58,"b":2.4,"bl":2.2,"bh":2.64,"c":1.92,"cl":1.7,"ch":2.08},
      {"r":1890,"a":2.5,"al":2.38,"ah":2.72,"b":2.25,"bl":2.11,"bh":2.37,"c":1.75,"cl":1.45,"ch":1.97},
      {"r":1900,"a":2.45,"al":2.29,"ah":2.6,"b":2.35,"bl":2.18,"bh":2.54,"c":2.05,"cl":1.87,"ch":2.35},
      {"r":1910,"a":2.48,"al":2.28,"ah":2.76,"b":2.38,"bl":2.23,"bh":2.52,"c":1.95,"cl":1.69,"ch":2.11},
      {"r":1920,"a":2.42,"al":2.29,"ah":2.6,"b":2.3,"bl":2.18,"bh":2.54,"c":2.1,"cl":1.82,"ch":2.36},
      {"r":1930,"a":2.45,"al":2.31,"ah":2.7,"b":2.45,"bl":2.25,"bh":2.57,"c":2.0,"cl":1.8,"ch":2.14},
      {"r":1940,"a":2.55,"al":2.37,"ah":2.69,"b":2.35,"bl":2.21,"bh":2.54,"c":2.05,"cl":1.72,"ch":2.27},
      {"r":1950,"a":2.5,"al":2.3,"ah":2.8,"b":2.3,"bl":2.13,"bh":2.44,"c":2.2,"cl":1.98,"ch":2.5},
      {"r":1960,"a":2.6,"al":2.47,"ah":2.8,"b":2.4,"bl":2.25,"bh":2.64,"c":2.12,"cl":1.82,"ch":2.28},
      {"r":1970,"a":2.55,"al":2.41,"ah":2.83,"b":2.42,"bl":2.3,"bh":2.54,"c":2.15,"cl":1.97,"ch":2.33},
      {"r":1975,"a":2.59,"al":2.45,"ah":2.78,"b":2.43,"bl":2.29,"bh":2.6,"c":2.36,"cl":2.1,"ch":2.55}
    ]
  },
  "encoding": {
    "x": {
      "field": "r",
      "type": "quantitative",
      "scale": {"domain": [-98.75, 2073.75], "nice": false, "zero": false},
      "axis": {
        "values": [0, 250, 500, 750, 1000, 1250, 1500, 1750, 2000],
        "format": "d",
        "labelFlush": false,
        "labelPadding": 10,
        "titlePadding": 20,
        "title": "r [kpc], proper distance"
      }
    }
  },
  "layer": [
    {
      "mark": {"type": "area", "color": "#800000", "opacity": 0.25, "clip": true},
      "encoding": {
        "y": {
          "field": "al",
          "type": "quantitative",
          "scale": {"domain": [1, 4], "nice": false, "zero": false},
          "axis": {
            "values": [1, 1.5, 2, 2.5, 3, 3.5, 4],
            "format": ".1f",
            "labelFlush": false,
            "labelPadding": 11,
            "titlePadding": 19
          },
          "title": "SB [Flux/kpc²]"
        },
        "y2": {"field": "ah"}
      }
    },
    {
      "mark": {"type": "area", "color": "#6495ED", "opacity": 0.25, "clip": true},
      "encoding": {
        "y": {"field": "bl", "type": "quantitative", "title": "SB [Flux/kpc²]"},
        "y2": {"field": "bh"}
      }
    },
    {
      "mark": {"type": "area", "color": "#808080", "opacity": 0.25, "clip": true},
      "encoding": {
        "y": {"field": "cl", "type": "quantitative", "title": "SB [Flux/kpc²]"},
        "y2": {"field": "ch"}
      }
    },
    {
      "mark": {"type": "line", "strokeWidth": 3.9, "strokeJoin": "round", "clip": true},
      "encoding": {
        "y": {"field": "a", "type": "quantitative", "title": "SB [Flux/kpc²]"},
        "color": {
          "datum": "BrightObj. > 0.2deg",
          "scale": {
            "domain": ["BrightObj. > 0.2deg", "BrightObj. > 0.3deg", "BrightObj. > 0.4deg"],
            "range": ["#800000", "#6495ED", "#808080"]
          },
          "legend": {"title": null}
        },
        "strokeDash": {
          "datum": "BrightObj. > 0.2deg",
          "scale": {
            "domain": ["BrightObj. > 0.2deg", "BrightObj. > 0.3deg", "BrightObj. > 0.4deg"],
            "range": [[1, 0], [14, 6], [4, 6.4]]
          },
          "legend": {"title": null}
        }
      }
    },
    {
      "mark": {"type": "line", "strokeWidth": 3.9, "strokeJoin": "round", "clip": true},
      "encoding": {
        "y": {"field": "b", "type": "quantitative", "title": "SB [Flux/kpc²]"},
        "color": {"datum": "BrightObj. > 0.3deg"},
        "strokeDash": {"datum": "BrightObj. > 0.3deg"}
      }
    },
    {
      "mark": {"type": "line", "strokeWidth": 3.9, "strokeJoin": "round", "clip": true},
      "encoding": {
        "y": {"field": "c", "type": "quantitative", "title": "SB [Flux/kpc²]"},
        "color": {"datum": "BrightObj. > 0.4deg"},
        "strokeDash": {"datum": "BrightObj. > 0.4deg"}
      }
    }
  ]
}
